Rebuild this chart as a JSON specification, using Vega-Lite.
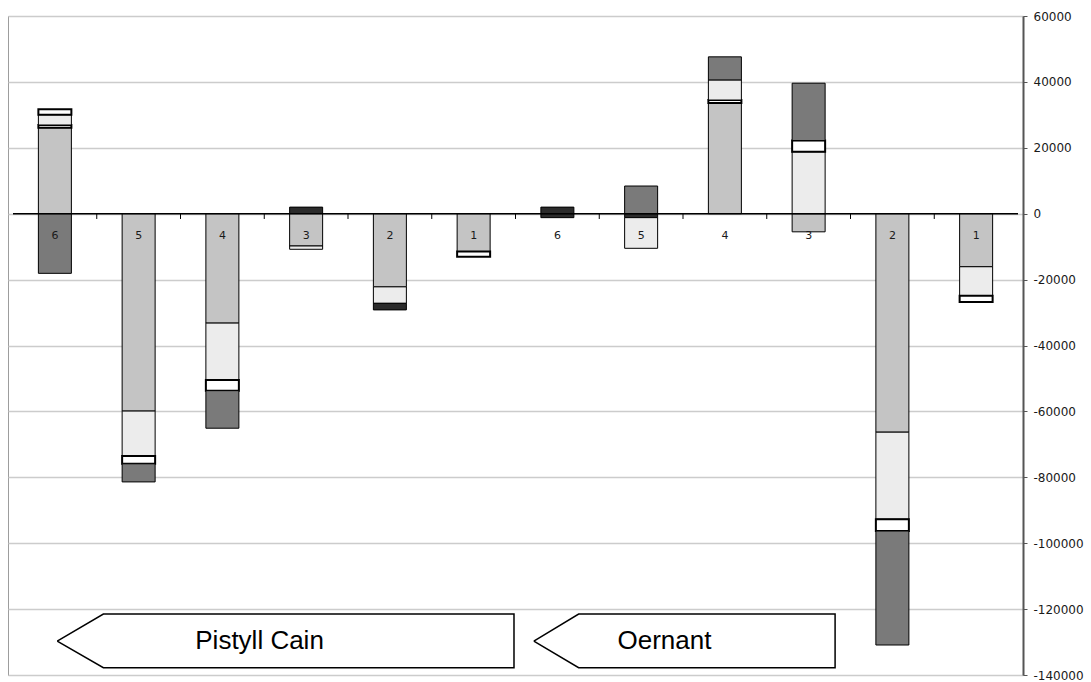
{
  "$schema": "https://vega.github.io/schema/vega-lite/v6.json",
  "width": 1015,
  "height": 659,
  "autosize": {"type": "none"},
  "padding": {"left": 8, "top": 16, "right": 68, "bottom": 7},
  "background": "white",
  "config": {
    "view": {"stroke": "#9d9d9d", "strokeWidth": 1},
    "font": "Liberation Sans"
  },
  "encoding": {
    "x": {
      "field": "u",
      "type": "quantitative",
      "scale": {"domain": [0, 12], "nice": false, "zero": false},
      "axis": null
    },
    "y": {
      "field": "v",
      "type": "quantitative",
      "scale": {"domain": [-140000, 60000], "nice": false},
      "axis": {
        "orient": "right",
        "title": null,
        "values": [-140000, -120000, -100000, -80000, -60000, -40000, -20000, 0, 20000, 40000, 60000],
        "labelExpr": "'' + datum.value",
        "grid": true,
        "gridColor": "#cccccc",
        "gridWidth": 1.5,
        "domainColor": "#555555",
        "domainWidth": 2,
        "tickColor": "#555555",
        "tickSize": 4,
        "labelPadding": 6,
        "labelFont": "DejaVu Sans",
        "labelFontSize": 12,
        "labelColor": "#1a1a1a"
      }
    }
  },
  "layer": [
    {
      "data": {
        "values": [
          {"u": 0.5, "label": "6", "kind": "dense", "seq": 1, "v": 26100},
          {"u": 0.5, "label": "6", "kind": "white", "seq": 2, "v": 820},
          {"u": 0.5, "label": "6", "kind": "sparse", "seq": 3, "v": 3130},
          {"u": 0.5, "label": "6", "kind": "white", "seq": 4, "v": 1640},
          {"u": 0.5, "label": "6", "kind": "dark", "seq": 5, "v": -18100},
          {"u": 1.5, "label": "5", "kind": "dense", "seq": 1, "v": -59900},
          {"u": 1.5, "label": "5", "kind": "sparse", "seq": 2, "v": -13600},
          {"u": 1.5, "label": "5", "kind": "white", "seq": 3, "v": -2400},
          {"u": 1.5, "label": "5", "kind": "dark", "seq": 4, "v": -5500},
          {"u": 2.5, "label": "4", "kind": "dense", "seq": 1, "v": -33200},
          {"u": 2.5, "label": "4", "kind": "sparse", "seq": 2, "v": -17300},
          {"u": 2.5, "label": "4", "kind": "white", "seq": 3, "v": -3200},
          {"u": 2.5, "label": "4", "kind": "dark", "seq": 4, "v": -11400},
          {"u": 3.5, "label": "3", "kind": "wave", "seq": 1, "v": 2000},
          {"u": 3.5, "label": "3", "kind": "dense", "seq": 2, "v": -9800},
          {"u": 3.5, "label": "3", "kind": "sparse", "seq": 3, "v": -1000},
          {"u": 4.5, "label": "2", "kind": "dense", "seq": 1, "v": -22200},
          {"u": 4.5, "label": "2", "kind": "sparse", "seq": 2, "v": -5000},
          {"u": 4.5, "label": "2", "kind": "wave", "seq": 3, "v": -2000},
          {"u": 5.5, "label": "1", "kind": "dense", "seq": 1, "v": -11500},
          {"u": 5.5, "label": "1", "kind": "white", "seq": 2, "v": -1600},
          {"u": 6.5, "label": "6", "kind": "wave", "seq": 1, "v": 2000},
          {"u": 6.5, "label": "6", "kind": "wave", "seq": 2, "v": -1200},
          {"u": 7.5, "label": "5", "kind": "dark", "seq": 1, "v": 8400},
          {"u": 7.5, "label": "5", "kind": "wave", "seq": 2, "v": -1200},
          {"u": 7.5, "label": "5", "kind": "sparse", "seq": 3, "v": -9300},
          {"u": 8.5, "label": "4", "kind": "dense", "seq": 1, "v": 33600},
          {"u": 8.5, "label": "4", "kind": "white", "seq": 2, "v": 900},
          {"u": 8.5, "label": "4", "kind": "sparse", "seq": 3, "v": 6100},
          {"u": 8.5, "label": "4", "kind": "dark", "seq": 4, "v": 7000},
          {"u": 9.5, "label": "3", "kind": "dense", "seq": 1, "v": -5500},
          {"u": 9.5, "label": "3", "kind": "sparse", "seq": 2, "v": 18800},
          {"u": 9.5, "label": "3", "kind": "white", "seq": 3, "v": 3400},
          {"u": 9.5, "label": "3", "kind": "dark", "seq": 4, "v": 17400},
          {"u": 10.5, "label": "2", "kind": "dense", "seq": 1, "v": -66300},
          {"u": 10.5, "label": "2", "kind": "sparse", "seq": 2, "v": -26400},
          {"u": 10.5, "label": "2", "kind": "white", "seq": 3, "v": -3600},
          {"u": 10.5, "label": "2", "kind": "dark", "seq": 4, "v": -34600},
          {"u": 11.5, "label": "1", "kind": "dense", "seq": 1, "v": -16100},
          {"u": 11.5, "label": "1", "kind": "sparse", "seq": 2, "v": -8800},
          {"u": 11.5, "label": "1", "kind": "white", "seq": 3, "v": -1900}
        ]
      },
      "layer": [
        {
          "mark": {"type": "bar", "width": 33, "stroke": "#000000"},
          "encoding": {
            "y": {"field": "v", "type": "quantitative", "stack": "zero"},
            "order": {"field": "seq", "type": "quantitative"},
            "fill": {
              "field": "kind",
              "type": "nominal",
              "scale": {
                "domain": ["dense", "sparse", "white", "dark", "wave"],
                "range": ["#c4c4c4", "#ececec", "#ffffff", "#7a7a7a", "#2b2b2b"]
              },
              "legend": null
            },
            "strokeWidth": {
              "condition": {"test": "datum.kind === 'white'", "value": 2},
              "value": 1
            }
          }
        }
      ]
    },
    {
      "data": {"values": [{"u": 0, "u2": 12, "v": 0}]},
      "mark": {"type": "rule", "color": "#000000", "strokeWidth": 1.5},
      "encoding": {
        "x2": {"field": "u2"}
      }
    },
    {
      "data": {
        "values": [
          {"u": 1, "v": 0, "v2": -1600}, {"u": 2, "v": 0, "v2": -1600},
          {"u": 3, "v": 0, "v2": -1600}, {"u": 4, "v": 0, "v2": -1600},
          {"u": 5, "v": 0, "v2": -1600}, {"u": 6, "v": 0, "v2": -1600},
          {"u": 7, "v": 0, "v2": -1600}, {"u": 8, "v": 0, "v2": -1600},
          {"u": 9, "v": 0, "v2": -1600}, {"u": 10, "v": 0, "v2": -1600},
          {"u": 11, "v": 0, "v2": -1600}
        ]
      },
      "mark": {"type": "rule", "color": "#000000", "strokeWidth": 1},
      "encoding": {
        "y2": {"field": "v2"}
      }
    },
    {
      "data": {
        "values": [
          {"u": 0.5, "label": "6", "v": 0}, {"u": 1.5, "label": "5", "v": 0},
          {"u": 2.5, "label": "4", "v": 0}, {"u": 3.5, "label": "3", "v": 0},
          {"u": 4.5, "label": "2", "v": 0}, {"u": 5.5, "label": "1", "v": 0},
          {"u": 6.5, "label": "6", "v": 0}, {"u": 7.5, "label": "5", "v": 0},
          {"u": 8.5, "label": "4", "v": 0}, {"u": 9.5, "label": "3", "v": 0},
          {"u": 10.5, "label": "2", "v": 0}, {"u": 11.5, "label": "1", "v": 0}
        ]
      },
      "mark": {"type": "text", "dy": 22, "fontSize": 11, "font": "DejaVu Sans", "color": "#1a1a1a", "align": "center", "baseline": "middle"},
      "encoding": {
        "text": {"field": "label", "type": "nominal"}
      }
    },
    {
      "data": {
        "values": [
          {"shape": "Pistyll Cain", "pt": 0, "u": 0.528, "v": -129700},
          {"shape": "Pistyll Cain", "pt": 1, "u": 1.079, "v": -121500},
          {"shape": "Pistyll Cain", "pt": 2, "u": 5.982, "v": -121500},
          {"shape": "Pistyll Cain", "pt": 3, "u": 5.982, "v": -137800},
          {"shape": "Pistyll Cain", "pt": 4, "u": 1.079, "v": -137800},
          {"shape": "Pistyll Cain", "pt": 5, "u": 0.528, "v": -129700},
          {"shape": "Oernant", "pt": 0, "u": 6.219, "v": -129700},
          {"shape": "Oernant", "pt": 1, "u": 6.754, "v": -121500},
          {"shape": "Oernant", "pt": 2, "u": 9.816, "v": -121500},
          {"shape": "Oernant", "pt": 3, "u": 9.816, "v": -137800},
          {"shape": "Oernant", "pt": 4, "u": 6.754, "v": -137800},
          {"shape": "Oernant", "pt": 5, "u": 6.219, "v": -129700}
        ]
      },
      "mark": {"type": "line", "color": "#000000", "strokeWidth": 1.5, "strokeJoin": "miter"},
      "encoding": {
        "detail": {"field": "shape", "type": "nominal"},
        "order": {"field": "pt", "type": "quantitative"}
      }
    },
    {
      "data": {
        "values": [
          {"name": "Pistyll Cain", "u": 2.944, "v": -129700},
          {"name": "Oernant", "u": 7.779, "v": -129700}
        ]
      },
      "mark": {"type": "text", "fontSize": 26, "color": "#000000", "align": "center", "baseline": "middle", "font": "Liberation Sans"},
      "encoding": {
        "text": {"field": "name", "type": "nominal"}
      }
    }
  ]
}
